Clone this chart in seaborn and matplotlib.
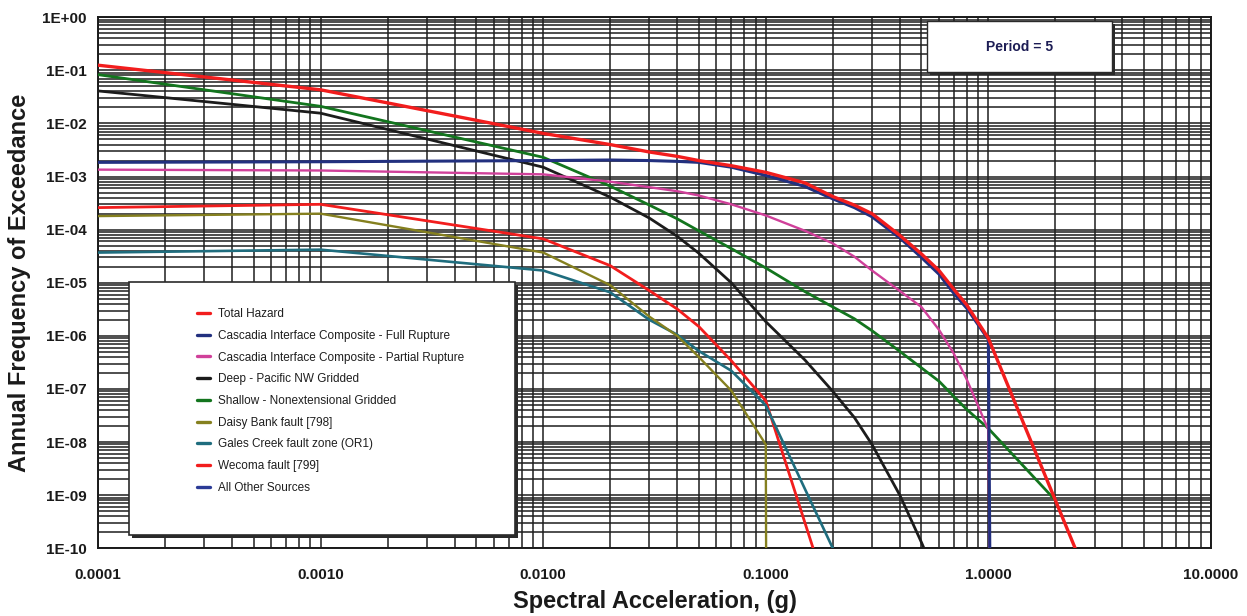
import numpy as np
import pandas as pd
import matplotlib
matplotlib.use("Agg")
import matplotlib.pyplot as plt
from matplotlib.patches import Rectangle
from matplotlib.lines import Line2D
from matplotlib.ticker import LogLocator, NullFormatter, FixedLocator
import seaborn as sns

nan = np.nan

# Spectral acceleration (g) at which the hazard curves are evaluated
sa_g = [0.0001, 0.001, 0.01, 0.02, 0.03, 0.04, 0.05, 0.07, 0.1, 0.101, 0.15,
        0.2, 0.25, 0.3, 0.4, 0.5, 0.6, 0.7, 0.8, 1.0, 1.03, 2.0, 3.0]

# Annual frequency of exceedance per source (NaN = not computed)
total_hazard = [1.25e-1, 4.3e-2, 6.5e-3, 4.0e-3, 2.9e-3, 2.4e-3, 2.0e-3, 1.6e-3, 1.2e-3, nan, 7.6e-4,
                4.2e-4, 2.9e-4, 2.0e-4, 7.8e-5, 3.5e-5, 1.7e-5, 7.5e-6, 3.8e-6, 9.0e-7, nan, 8.0e-10, 1.3e-11]
cascadia_full = [1.85e-3, 1.9e-3, 2.0e-3, 2.05e-3, 2.0e-3, 1.93e-3, 1.85e-3, 1.5e-3, 1.05e-3, nan, 6.5e-4,
                 3.8e-4, 2.6e-4, 1.75e-4, 7.0e-5, 3.0e-5, 1.45e-5, 6.3e-6, 3.3e-6, 8.5e-7, 1e-14, nan, nan]
cascadia_partial = [1.35e-3, 1.3e-3, 1.1e-3, 8.0e-4, 6.3e-4, 5.3e-4, 4.4e-4, 3.0e-4, 1.85e-4, nan, 9.5e-5,
                    5.5e-5, 3.1e-5, 1.7e-5, 7.0e-6, 3.5e-6, 1.3e-6, 4.6e-7, 1.5e-7, 1.7e-8, 1e-14, nan, nan]
deep_gridded = [4.1e-2, 1.56e-2, 1.5e-3, 4.1e-4, 1.65e-4, 7.5e-5, 3.6e-5, 1.0e-5, 1.85e-6, nan, 3.5e-7,
                9.0e-8, 2.9e-8, 9.0e-9, 1.0e-9, 1.3e-10, 2.2e-11, 3.0e-12, nan, nan, nan, nan, nan]
shallow_gridded = [8.3e-2, 2.1e-2, 2.3e-3, 6.6e-4, 2.9e-4, 1.6e-4, 9.5e-5, 4.4e-5, 1.9e-5, nan, 6.8e-6,
                   3.5e-6, 2.1e-6, 1.25e-6, 5.1e-7, 2.5e-7, 1.4e-7, 7.2e-8, 4.1e-8, 1.8e-8, nan, 8.0e-10, nan]
daisy_bank = [1.8e-4, 2.0e-4, 3.7e-5, 9.0e-6, 2.3e-6, 1.0e-6, 4.0e-7, 9.3e-8, 9.0e-9, 1e-14, nan,
              nan, nan, nan, nan, nan, nan, nan, nan, nan, nan, nan, nan]
gales_creek = [3.7e-5, 4.2e-5, 1.7e-5, 6.6e-6, 2.0e-6, 1.05e-6, 5.2e-7, 2.2e-7, 4.9e-8, nan, 1.3e-9,
               1.0e-10, nan, 1e-13, nan, nan, nan, nan, nan, nan, nan, nan, nan]
wecoma = [2.6e-4, 3.0e-4, 6.7e-5, 2.1e-5, 7.1e-6, 3.2e-6, 1.5e-6, 3.4e-7, 6.0e-8, nan, 3.0e-10,
          7.0e-12, nan, nan, nan, nan, nan, nan, nan, nan, nan, nan, nan]
all_other = [nan] * len(sa_g)

source_names = ["Total Hazard",
                "Cascadia Interface Composite - Full Rupture",
                "Cascadia Interface Composite - Partial Rupture",
                "Deep - Pacific NW Gridded",
                "Shallow - Nonextensional Gridded",
                "Daisy Bank fault [798]",
                "Gales Creek fault zone (OR1)",
                "Wecoma fault [799]",
                "All Other Sources"]
source_values = [total_hazard, cascadia_full, cascadia_partial, deep_gridded,
                 shallow_gridded, daisy_bank, gales_creek, wecoma, all_other]
source_colors = ["#f21d1d", "#22307f", "#d0409a", "#1c1c1c", "#13751e",
                 "#85801f", "#1f6d7e", "#f21d1d", "#2b3b96"]
source_widths = [2.4, 2.2, 1.7, 2.0, 2.0, 1.7, 1.9, 2.0, 1.7]

x_tick_values = [1e-4, 1e-3, 1e-2, 1e-1, 1e0, 1e1]
x_tick_labels = ["0.0001", "0.0010", "0.0100", "0.1000", "1.0000", "10.0000"]
y_exponents = list(range(0, -11, -1))
y_tick_labels = [f"1E{e:+03d}" for e in y_exponents]

sns.set_theme(style="white")
plt.rcParams["font.family"] = ["Liberation Sans", "DejaVu Sans"]

frames = []
for name, vals in zip(source_names, source_values):
    frames.append(pd.DataFrame({"sa": sa_g, "afe": vals, "source": name}))
df = pd.concat(frames, ignore_index=True).dropna()

fig = plt.figure(figsize=(12.47, 6.16), dpi=100)
ax = fig.add_axes([0.0786, 0.110, 0.8925, 0.862])
ax.set_xscale("log")
ax.set_yscale("log")
ax.set_xlim(1e-4, 1e1)
ax.set_ylim(1e-10, 1e0)

# later sources underneath, total hazard on top
for i in reversed(range(len(source_names))):
    sub = df[df["source"] == source_names[i]]
    if sub.empty:
        continue
    sns.lineplot(data=sub, x="sa", y="afe", ax=ax, color=source_colors[i],
                 lw=source_widths[i], estimator=None, sort=False, legend=False,
                 zorder=3 + (len(source_names) - i) * 0.01)

ax.xaxis.set_major_locator(FixedLocator(x_tick_values))
ax.set_xticklabels(x_tick_labels)
ax.yaxis.set_major_locator(FixedLocator([10.0 ** e for e in y_exponents]))
ax.set_yticklabels(y_tick_labels)
ax.xaxis.set_minor_locator(LogLocator(base=10, subs=range(2, 10), numticks=100))
ax.yaxis.set_minor_locator(LogLocator(base=10, subs=range(2, 10), numticks=100))
ax.xaxis.set_minor_formatter(NullFormatter())
ax.yaxis.set_minor_formatter(NullFormatter())
ax.set_xlim(1e-4, 1e1)
ax.set_ylim(1e-10, 1e0)

# grid: every decade and sub-decade line in black
ax.grid(True, which="both", color="#1e1e1e", lw=1.1)
ax.set_axisbelow(True)

ax.tick_params(axis="both", which="major", labelsize=11, length=4, width=1,
               color="#1e1e1e", direction="out")
ax.tick_params(axis="x", which="major", pad=10)
ax.tick_params(axis="y", which="major", pad=4)
ax.tick_params(axis="both", which="minor", length=3, width=0.8, color="#1e1e1e")
for lab in ax.get_xticklabels() + ax.get_yticklabels():
    lab.set_fontweight("bold")
    lab.set_color("#1a1a1a")
for sp in ax.spines.values():
    sp.set_color("#1a1a1a")
    sp.set_linewidth(1.4)

ax.set_xlabel("Spectral Acceleration, (g)", fontsize=17, fontweight="bold",
              color="#1a1a1a", labelpad=6)
ax.set_ylabel("Annual Frequency of Exceedance", fontsize=17, fontweight="bold",
              color="#1a1a1a", labelpad=8)

# legend panel with drop shadow
box_x0, box_y0, box_w, box_h = 0.0279, 0.0245, 0.3468, 0.4764
ax.add_patch(Rectangle((box_x0 + 0.0028, box_y0 - 0.006), box_w, box_h,
                       transform=ax.transAxes, facecolor="#2a2a2a",
                       edgecolor="none", zorder=9))
ax.add_patch(Rectangle((box_x0, box_y0), box_w, box_h, transform=ax.transAxes,
                       facecolor="white", edgecolor="#2a2a2a", lw=1.2, zorder=10))
handles = [Line2D([], [], color=c, lw=2.4) for c in source_colors]
leg = ax.legend(handles, source_names, loc="upper left",
                bbox_to_anchor=(0.089, 0.452), frameon=False, fontsize=8.5,
                handlelength=1.1, handletextpad=0.7, labelspacing=0.82,
                borderpad=0, borderaxespad=0)
leg.set_zorder(11)
for t in leg.get_texts():
    t.set_color("#1e1e1e")

# period annotation box
px0, py0, pw, ph = 0.745, 0.896, 0.166, 0.0965
ax.add_patch(Rectangle((px0 + 0.0025, py0 - 0.005), pw, ph, transform=ax.transAxes,
                       facecolor="#2a2a2a", edgecolor="none", zorder=9))
ax.add_patch(Rectangle((px0, py0), pw, ph, transform=ax.transAxes,
                       facecolor="white", edgecolor="#2a2a2a", lw=1.0, zorder=10))
ax.text(px0 + pw / 2, py0 + ph / 2, "Period = 5", transform=ax.transAxes,
        ha="center", va="center", fontsize=10, fontweight="bold",
        color="#1d1d55", zorder=11)

fig.savefig("out.png", dpi=100)
